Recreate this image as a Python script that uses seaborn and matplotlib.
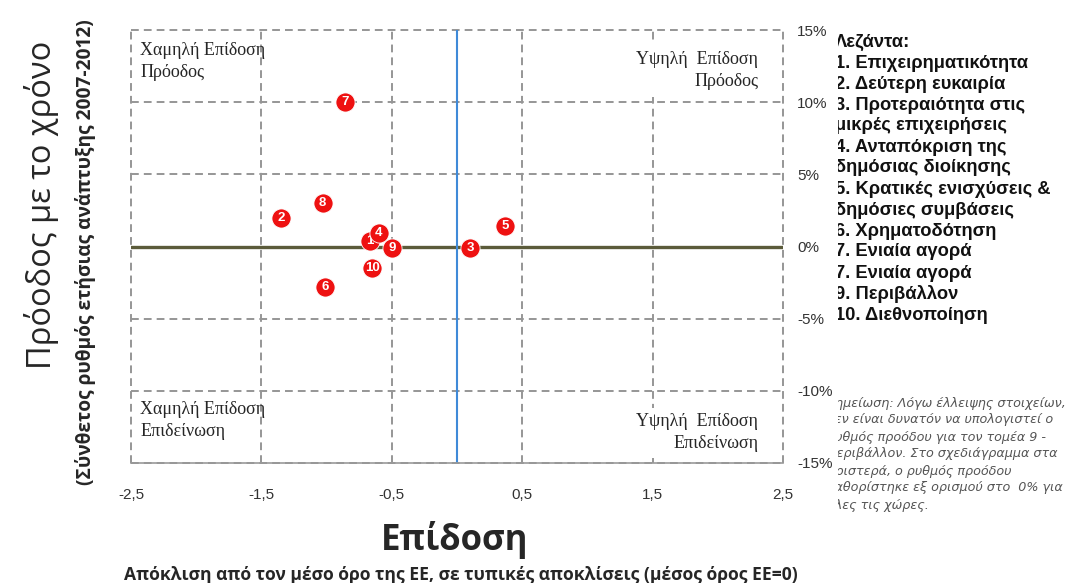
"""
Performance vs. progress scatter (Greek SBA-style quadrant chart).
"""

import numpy as np
import pandas as pd
import seaborn as sns
from matplotlib import pyplot as plt
from matplotlib.transforms import Bbox, TransformedBbox


# === Data ===

labels = ["1", "2", "3", "4", "5", "6", "7", "8", "9", "10"]
performance = [-0.67, -1.35, 0.10, -0.60, 0.37, -1.01, -0.86, -1.03, -0.50, -0.65]
progress = [0.35, 2.0, -0.1, 0.95, 1.4, -2.8, 10.0, 3.0, -0.1, -1.5]

x_ticks = [-2.5, -1.5, -0.5, 0.5, 1.5, 2.5]
x_ticklabels = ["-2,5", "-1,5", "-0,5", "0,5", "1,5", "2,5"]
x_minor = [-2.0, -1.0, 0.0, 1.0, 2.0]
y_ticks = [-15, -10, -5, 0, 5, 10, 15]
y_ticklabels = ["-15%", "-10%", "-5%", "0%", "5%", "10%", "15%"]

legend_lines = [
    "Λεζάντα:",
    "1. Επιχειρηματικότητα",
    "2. Δεύτερη ευκαιρία",
    "3. Προτεραιότητα στις",
    "μικρές επιχειρήσεις",
    "4. Ανταπόκριση της",
    "δημόσιας διοίκησης",
    "5. Κρατικές ενισχύσεις &",
    "δημόσιες συμβάσεις",
    "6. Χρηματοδότηση",
    "7. Ενιαία αγορά",
    "7. Ενιαία αγορά",
    "9. Περιβάλλον",
    "10. Διεθνοποίηση",
]

note_lines = [
    "Σημείωση: Λόγω έλλειψης στοιχείων,",
    "δεν είναι δυνατόν να υπολογιστεί ο",
    "ρυθμός προόδου για τον τομέα 9 -",
    "Περιβάλλον. Στο σχεδιάγραμμα στα",
    "αριστερά, ο ρυθμός προόδου",
    "καθορίστηκε εξ ορισμού στο  0% για",
    "όλες τις χώρες.",
]

quadrants = {
    "top_left": "Χαμηλή Επίδοση\nΠρόοδος",
    "top_right": "Υψηλή  Επίδοση\nΠρόοδος",
    "bottom_left": "Χαμηλή Επίδοση\nΕπιδείνωση",
    "bottom_right": "Υψηλή  Επίδοση\nΕπιδείνωση",
}

W, H = 1068, 583


def px(x, y):
    """pixel position -> figure fraction"""
    return x / W, 1 - y / H


# === Plot ===

sns.set_style("white")
plt.rcParams["font.family"] = ["Liberation Sans", "DejaVu Sans"]

fig = plt.figure(figsize=(W / 100, H / 100), dpi=100)
ax = fig.add_axes([131 / W, 1 - 463 / H, (783 - 131) / W, (463 - 30) / H])

data = pd.DataFrame({"label": labels, "x": performance, "y": progress})

ax.axhline(0, color="#5b5b3a", lw=2.4, zorder=1)
ax.axvline(0, color="#3f8ad8", lw=1.5, zorder=2)

# one point at a time so later markers sit on top of earlier numbers
for i, row in data.iterrows():
    sns.scatterplot(x=[row["x"]], y=[row["y"]], ax=ax, s=190, color="#ee1111",
                    edgecolor="white", linewidth=0.6, zorder=5 + 2 * i,
                    legend=False)
    ax.text(row["x"], row["y"], row["label"], color="white", fontsize=9.5,
            fontweight="bold", ha="center", va="center", zorder=6 + 2 * i)

ax.set_xlim(-2.5, 2.5)
ax.set_ylim(-15, 15)
ax.set_xticks(x_ticks)
ax.set_xticklabels(x_ticklabels)
ax.set_xticks(x_minor, minor=True)
ax.set_yticks(y_ticks)
ax.set_yticklabels(y_ticklabels)
ax.yaxis.tick_right()
ax.tick_params(axis="y", length=0, pad=10, labelsize=11, labelcolor="#333333")
ax.tick_params(axis="x", which="both", direction="inout", length=8,
               color="#999999", width=1, pad=14, labelsize=11,
               labelcolor="#333333")
ax.set_xlabel("")
ax.set_ylabel("")

ax.grid(True, which="major", linestyle=(0, (4, 2.6)), color="#969696", lw=1.4)
for line in ax.get_xgridlines() + ax.get_ygridlines():
    line.set_clip_on(False)
for side in ["top", "left", "right"]:
    ax.spines[side].set_visible(False)
ax.spines["bottom"].set_color("#999999")
ax.spines["bottom"].set_linewidth(1.2)

# Quadrant captions
serif = ["Liberation Serif", "DejaVu Serif"]
qkw = dict(transform=ax.transAxes, family=serif, fontsize=13, va="top",
           linespacing=1.38)
ax.text(0.014, 0.972, quadrants["top_left"], ha="left", **qkw)
ax.text(0.962, 0.951, quadrants["top_right"], ha="right", ma="right",
        zorder=4, bbox=dict(facecolor="white", edgecolor="none", pad=5), **qkw)
ax.text(0.014, 0.143, quadrants["bottom_left"], ha="left", **qkw)
ax.text(0.962, 0.115, quadrants["bottom_right"], ha="right", ma="right",
        zorder=4, bbox=dict(facecolor="white", edgecolor="none", pad=4), **qkw)

# Axis titles
sans = ["Open Sans", "DejaVu Sans"]
fig.text(*px(42, 205), "Πρόοδος με το χρόνο", rotation=90, family=sans,
         fontsize=23.5, ha="center", va="center")
fig.text(*px(86, 252), "(Σύνθετος ρυθμός ετήσιας ανάπτυξης 2007-2012)",
         rotation=90, family=sans, fontsize=13.8, fontweight="bold",
         ha="center", va="center")
fig.text(*px(455, 540), "Επίδοση", family=sans, fontsize=25,
         fontweight="bold", ha="center", va="center")
fig.text(*px(461, 575),
         "Απόκλιση από τον μέσο όρο της ΕΕ, σε τυπικές αποκλίσεις (μέσος όρος ΕΕ=0)",
         family=sans, fontsize=12.6, fontweight="bold", ha="center", va="center")

# Legend and note, cut at the left edge like the original
clip = TransformedBbox(Bbox.from_extents(838 / W, 0, 1, 1), fig.transFigure)
for i, line in enumerate(legend_lines):
    t = fig.text(*px(835, 42 + 21 * i), line, fontsize=13.2, fontweight="bold",
                 ha="left", va="center", color="#111111")
    t.set_clip_box(clip)
    t.set_clip_on(True)
for i, line in enumerate(note_lines):
    t = fig.text(*px(827, 403 + 17 * i), line, fontsize=9.2, style="italic",
                 family=["DejaVu Sans"], ha="left", va="center",
                 color="#555555")
    t.set_clip_box(clip)
    t.set_clip_on(True)

plt.savefig("out.png", dpi=100)
